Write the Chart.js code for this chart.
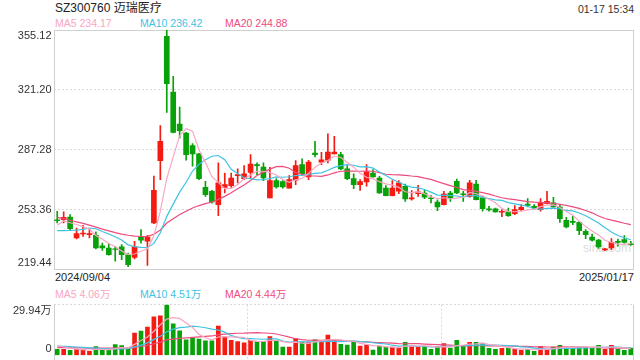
<!DOCTYPE html>
<html>
<head>
<meta charset="utf-8">
<script src="https://cdn.jsdelivr.net/npm/chart.js@4.4.1/dist/chart.umd.min.js"></script>
<style>
  html, body { margin: 0; padding: 0; background: #fff; }
  #wrap { position: relative; width: 640px; height: 360px; overflow: hidden;
          font-family: "Liberation Sans", Arial, "Noto Sans CJK SC", sans-serif; }
  .txt { position: absolute; white-space: nowrap; line-height: 1; }
  canvas { position: absolute; left: 0; }
</style>
</head>
<body>
<div id="wrap">
  <div class="txt" style="left:55px;top:1.5px;font-size:12px;color:#222">SZ300760 迈瑞医疗</div>
  <div class="txt" style="right:6px;top:3.8px;font-size:10.5px;color:#333">01-17 15:34</div>
  <div class="txt" style="left:583px;top:242px;font-size:12px;color:#dcdcdc">sina.com</div>
  <div id="legend-k"></div>
  <div id="legend-v"></div>
  <div class="txt" id="date-first" style="left:55px;top:272.4px;font-size:11px;color:#222"></div>
  <div class="txt" id="date-last" style="right:6px;top:272.4px;font-size:11px;color:#222"></div>
  <canvas id="kline" width="640" height="280" style="top:0"></canvas>
  <canvas id="vol" width="640" height="60" style="top:300px"></canvas>
</div>
<script>
// trading days shown
const dates = [
  '2024/09/04','2024/09/05','2024/09/06','2024/09/09','2024/09/10','2024/09/11','2024/09/12','2024/09/13','2024/09/18','2024/09/19',
  '2024/09/20','2024/09/23','2024/09/24','2024/09/25','2024/09/26','2024/09/27','2024/09/30','2024/10/08','2024/10/09','2024/10/10',
  '2024/10/11','2024/10/14','2024/10/15','2024/10/16','2024/10/17','2024/10/18','2024/10/21','2024/10/22','2024/10/23','2024/10/24',
  '2024/10/25','2024/10/28','2024/10/29','2024/10/30','2024/10/31','2024/11/01','2024/11/04','2024/11/05','2024/11/06','2024/11/07',
  '2024/11/08','2024/11/11','2024/11/12','2024/11/13','2024/11/14','2024/11/15','2024/11/18','2024/11/19','2024/11/20','2024/11/21',
  '2024/11/22','2024/11/25','2024/11/26','2024/11/27','2024/11/28','2024/11/29','2024/12/02','2024/12/03','2024/12/04','2024/12/05',
  '2024/12/06','2024/12/09','2024/12/10','2024/12/11','2024/12/12','2024/12/13','2024/12/16','2024/12/17','2024/12/18','2024/12/19',
  '2024/12/20','2024/12/23','2024/12/24','2024/12/25','2024/12/26','2024/12/27','2024/12/30','2024/12/31','2025/01/02','2025/01/03',
  '2025/01/06','2025/01/07','2025/01/08','2025/01/09','2025/01/10','2025/01/13','2025/01/14','2025/01/15','2025/01/16','2025/01/17'
];

const opens = [
  247.6, 247.7, 249.2, 237.4, 239.6, 239.3, 238.9, 233.0, 231.7, 231.3,
  232.3, 227.9, 226.4, 237.9, 235.5, 245.9, 281.1, 351.4, 319.9, 301.8,
  296.7, 289.6, 284.9, 266.0, 263.8, 256.2, 266.0, 267.0, 272.6, 270.9,
  274.5, 278.8, 277.5, 260.0, 269.8, 269.2, 265.6, 270.0, 278.8, 271.9,
  285.4, 280.3, 281.3, 284.9, 284.5, 276.4, 270.9, 267.5, 269.0, 274.1,
  271.3, 265.6, 261.3, 263.8, 266.6, 259.4, 262.4, 262.8, 260.0, 257.7,
  256.2, 262.8, 269.4, 262.4, 260.9, 267.9, 260.0, 253.8, 253.8, 251.9,
  252.1, 251.1, 253.4, 256.6, 255.3, 253.4, 256.8, 257.2, 254.9, 247.4,
  246.8, 246.2, 241.1, 237.9, 236.2, 230.6, 231.7, 235.5, 236.4, 234.0
];
const closes = [
  247.2, 249.0, 242.7, 239.8, 240.2, 239.8, 231.7, 231.7, 227.9, 230.9,
  227.9, 222.3, 232.3, 236.1, 237.9, 264.3, 292.0, 324.6, 297.1, 298.0,
  284.5, 284.9, 270.9, 261.9, 257.7, 268.5, 267.5, 271.3, 273.2, 273.6,
  279.2, 278.3, 271.3, 269.8, 266.2, 266.2, 270.4, 278.3, 273.7, 280.3,
  284.5, 281.5, 286.0, 286.0, 276.4, 270.9, 267.5, 269.2, 274.7, 271.9,
  262.8, 261.3, 265.6, 268.5, 259.4, 260.0, 263.4, 260.5, 259.6, 254.9,
  262.2, 260.0, 262.8, 261.9, 268.5, 259.0, 253.9, 253.2, 252.1, 252.5,
  250.0, 253.4, 254.7, 255.8, 254.3, 257.2, 258.1, 254.9, 248.3, 243.6,
  246.2, 241.5, 239.3, 236.1, 232.3, 231.2, 234.9, 234.9, 234.9, 233.6
];
const highs = [
  252.5, 252.1, 250.6, 243.0, 244.5, 242.5, 240.8, 234.5, 234.0, 232.7,
  233.6, 228.9, 235.5, 242.1, 238.9, 272.4, 300.9, 355.12, 328.8, 311.4,
  297.1, 290.7, 285.2, 269.4, 264.3, 279.8, 274.1, 274.1, 276.4, 278.3,
  284.5, 279.8, 279.8, 277.3, 270.9, 269.8, 272.6, 281.1, 282.1, 281.3,
  292.0, 285.8, 296.2, 294.8, 285.8, 278.3, 273.6, 270.4, 278.8, 276.0,
  272.2, 267.0, 269.8, 269.8, 267.9, 264.1, 267.1, 264.3, 261.3, 259.0,
  263.8, 263.8, 270.7, 263.8, 270.0, 270.0, 260.9, 255.3, 254.3, 253.4,
  254.3, 255.7, 256.2, 259.6, 256.2, 259.6, 263.8, 260.4, 256.2, 249.1,
  249.6, 246.8, 242.1, 239.6, 236.6, 231.5, 237.0, 236.8, 238.7, 235.5
];
const lows = [
  245.9, 245.9, 241.5, 236.8, 238.3, 237.4, 231.2, 230.4, 227.6, 224.2,
  225.1, 221.2, 225.5, 234.5, 221.9, 245.5, 270.4, 308.4, 296.7, 293.9,
  281.3, 277.9, 270.4, 260.9, 257.0, 250.0, 262.8, 266.0, 268.5, 270.4,
  271.3, 273.2, 269.8, 260.0, 265.6, 265.6, 265.5, 267.5, 272.6, 270.4,
  283.2, 278.8, 279.8, 284.9, 276.0, 270.4, 265.3, 264.3, 266.6, 271.7,
  262.6, 261.1, 261.1, 262.4, 258.1, 258.7, 260.9, 259.6, 257.2, 252.8,
  256.0, 258.1, 262.4, 258.1, 260.4, 258.9, 252.5, 252.5, 251.9, 249.4,
  249.6, 250.6, 252.8, 254.9, 253.8, 252.5, 256.6, 254.7, 246.2, 243.0,
  244.9, 239.3, 237.0, 235.5, 231.4, 230.2, 230.8, 232.7, 234.5, 233.2
];

// moving averages
const ma5 = [
  244.6, 247.0, 246.0, 245.0, 243.8, 242.3, 238.8, 236.6, 234.3, 232.4,
  230.0, 228.1, 228.3, 229.9, 231.3, 238.6, 252.5, 271.0, 283.2, 295.2,
  299.2, 297.8, 287.1, 280.0, 272.0, 268.8, 265.3, 265.4, 267.6, 270.8,
  273.0, 275.1, 275.1, 274.4, 273.0, 270.4, 268.8, 270.2, 271.0, 273.8,
  277.4, 279.7, 281.2, 283.7, 282.9, 280.2, 277.4, 274.0, 271.7, 270.8,
  269.2, 268.0, 267.3, 266.0, 263.5, 263.0, 263.4, 262.4, 260.6, 259.7,
  260.1, 259.4, 259.9, 260.4, 263.1, 262.4, 261.2, 259.3, 257.3, 254.1,
  252.3, 252.2, 252.5, 253.3, 253.6, 255.1, 256.0, 256.1, 254.6, 252.4,
  250.2, 246.9, 243.8, 241.3, 239.1, 236.1, 234.8, 233.9, 233.8, 234.2
];
const ma10 = [
  241.5, 241.5, 241.6, 241.8, 242.2, 243.0, 242.6, 241.0, 239.6, 238.1,
  236.2, 233.5, 232.5, 232.1, 231.9, 234.3, 240.3, 249.6, 256.5, 263.3,
  268.9, 275.2, 279.0, 281.6, 283.6, 284.0, 281.6, 276.2, 273.8, 271.4,
  270.9, 270.2, 270.3, 271.0, 271.9, 271.7, 272.0, 272.7, 272.7, 273.4,
  273.9, 274.2, 275.7, 277.3, 278.3, 278.8, 278.5, 277.6, 277.7, 276.9,
  274.7, 272.7, 270.6, 268.9, 267.2, 266.1, 265.7, 264.8, 263.3, 261.6,
  261.5, 261.4, 261.1, 260.5, 261.4, 261.3, 260.3, 259.6, 258.9, 258.6,
  257.4, 256.7, 255.9, 255.3, 253.9, 253.7, 254.1, 254.3, 253.9, 253.0,
  252.7, 251.5, 249.9, 248.0, 245.8, 243.2, 240.8, 238.8, 237.5, 236.4
];
const ma20 = [
  249.0, 248.3, 247.4, 246.5, 245.6, 244.6, 243.5, 242.4, 241.4, 240.4,
  239.6, 238.9, 238.4, 238.2, 238.3, 239.5, 241.9, 245.8, 248.3, 250.7,
  252.5, 254.3, 255.7, 256.8, 257.7, 259.2, 260.9, 262.9, 265.2, 267.3,
  269.9, 272.7, 274.6, 276.3, 277.7, 277.8, 276.8, 274.4, 273.3, 272.4,
  272.4, 272.2, 273.0, 274.2, 275.1, 275.2, 275.2, 275.1, 275.2, 275.1,
  274.3, 273.4, 273.2, 273.1, 272.8, 272.4, 272.1, 271.2, 270.5, 269.2,
  268.1, 267.0, 265.9, 264.7, 264.3, 263.7, 263.0, 262.2, 261.1, 260.1,
  259.5, 259.1, 258.5, 257.9, 257.6, 257.5, 257.2, 257.0, 256.4, 255.8,
  255.0, 254.1, 252.9, 251.6, 249.8, 248.4, 247.5, 246.6, 245.7, 244.9
];

// volume in 万
const volumes = [
  3.6, 3.6, 3.0, 3.6, 3.6, 2.4, 5.2, 3.0, 3.0, 6.4,
  5.8, 4.4, 13.2, 14.4, 16.8, 22.8, 23.4, 29.94, 18.6, 14.5,
  9.2, 10.2, 9.7, 8.6, 8.6, 17.4, 11.0, 9.0, 8.2, 7.5,
  8.9, 8.3, 8.3, 11.2, 8.3, 4.9, 5.0, 10.0, 7.9, 7.9,
  9.3, 8.6, 12.1, 9.2, 6.6, 6.2, 8.2, 5.5, 6.2, 3.2,
  5.5, 5.0, 5.0, 4.4, 7.8, 5.4, 5.4, 5.4, 3.6, 5.0,
  7.0, 4.4, 9.0, 5.4, 7.8, 7.8, 7.0, 4.2, 3.6, 4.2,
  4.4, 3.6, 3.0, 3.6, 2.4, 5.4, 3.6, 5.0, 6.0, 4.4,
  5.0, 5.0, 5.0, 4.4, 6.0, 3.6, 6.0, 3.6, 3.0, 4.4
];
const volMa5 = [
  5.8, 5.0, 4.3, 3.8, 3.48, 3.24, 3.56, 3.56, 3.44, 4.0,
  4.68, 4.52, 6.56, 8.84, 10.92, 14.32, 18.12, 21.47, 22.31, 21.85,
  19.13, 16.49, 12.44, 10.44, 9.26, 10.9, 11.06, 10.92, 10.84, 10.62,
  8.92, 8.38, 8.24, 8.84, 9.0, 8.2, 7.54, 7.88, 7.22, 7.14,
  8.02, 8.74, 9.16, 9.42, 9.16, 8.54, 8.46, 7.14, 6.54, 5.86,
  5.72, 5.08, 4.98, 4.62, 5.54, 5.52, 5.6, 5.68, 5.52, 4.96,
  5.28, 5.08, 5.8, 6.16, 6.72, 6.88, 7.4, 6.44, 6.08, 5.36,
  4.68, 4.0, 3.76, 3.76, 3.4, 3.6, 3.6, 4.0, 4.48, 4.88,
  4.8, 5.08, 5.08, 4.76, 5.08, 4.8, 5.0, 4.72, 4.44, 4.06
];
const volMa10 = [
  5.6, 5.4, 5.2, 5.0, 4.8, 4.5, 4.3, 4.1, 3.9, 3.74,
  3.96, 4.04, 5.06, 6.14, 7.46, 9.5, 11.32, 14.01, 15.57, 16.38,
  16.72, 17.3, 16.95, 16.37, 15.55, 15.01, 13.77, 11.68, 10.64, 9.94,
  9.91, 9.72, 9.58, 9.84, 9.81, 8.56, 7.96, 8.06, 8.03, 8.07,
  8.11, 8.14, 8.52, 8.32, 8.15, 8.28, 8.6, 8.15, 7.98, 7.51,
  7.13, 6.77, 6.06, 5.58, 5.7, 5.62, 5.34, 5.33, 5.07, 5.25,
  5.4, 5.34, 5.74, 5.84, 5.84, 6.08, 6.24, 6.12, 6.12, 6.04,
  5.78, 5.7, 5.1, 4.92, 4.38, 4.14, 3.8, 3.88, 4.12, 4.14,
  4.2, 4.34, 4.54, 4.62, 4.98, 4.8, 5.04, 4.9, 4.6, 4.51
];
const volMa20 = [
  4.6, 4.6, 4.5, 4.5, 4.5, 4.4, 4.4, 4.4, 4.3, 4.3,
  4.3, 4.3, 4.8, 5.3, 6.0, 6.9, 7.9, 9.2, 9.7, 10.06,
  10.34, 10.67, 11.01, 11.26, 11.51, 12.26, 12.55, 12.85, 13.11, 13.16,
  13.32, 13.51, 13.27, 13.11, 12.68, 11.79, 10.87, 9.87, 9.34, 9.0,
  9.01, 8.93, 9.05, 9.08, 8.98, 8.42, 8.28, 8.1, 8.0, 7.79,
  7.62, 7.46, 7.29, 6.95, 6.92, 6.95, 6.97, 6.74, 6.52, 6.38,
  6.26, 6.06, 5.9, 5.71, 5.77, 5.85, 5.79, 5.72, 5.6, 5.65,
  5.59, 5.52, 5.42, 5.38, 5.11, 5.11, 5.02, 5.0, 5.12, 5.09,
  4.99, 5.02, 4.82, 4.77, 4.68, 4.47, 4.42, 4.39, 4.36, 4.44
];

const priceTicks = [219.44, 253.36, 287.28, 321.20, 355.12];
const volTicks = [0, 29.94];
const priceLegend = [['MA5', '234.17'], ['MA10', '236.42'], ['MA20', '244.88']];
const volLegend = [['MA5', '4.06万'], ['MA10', '4.51万'], ['MA20', '4.44万']];

const UP = '#f31b12';
const DOWN = '#09a109';
const MA_COLORS = ['#f9a6c2', '#3fc3e3', '#ee4c7d'];
const GRID = '#d9d9d9';
const FRAME = '#cfcfcf';

Chart.defaults.font.family = '"Liberation Sans", Arial, sans-serif';

// legends + date labels
function buildLegend(id, items, top) {
    const box = document.getElementById(id);
    const lefts = [55, 140, 225];
    items.forEach((it, i) => {
        const d = document.createElement('div');
        d.className = 'txt';
        d.style.cssText = `left:${lefts[i]}px;top:${top}px;font-size:10.5px;color:${MA_COLORS[i]}`;
        d.textContent = it[0] + ' ' + it[1];
        box.appendChild(d);
    });
}
buildLegend('legend-k', priceLegend, 18.4);
buildLegend('legend-v', volLegend, 289);
document.getElementById('date-first').textContent = dates[0];
document.getElementById('date-last').textContent = dates[dates.length - 1];

const candleColors = opens.map((o, i) => closes[i] >= o ? UP : DOWN);
const bodies = opens.map((o, i) => [o, closes[i]]);
const wicks = lows.map((l, i) => [l, highs[i]]);
const volColors = candleColors;

function maLine(label, data, color) {
    return {
        type: 'line', label, data,
        borderColor: color, borderWidth: 1.2,
        pointRadius: 0, tension: 0, fill: false, order: 0
    };
}

// y tick labels, top and bottom pulled inside the frame
function axisLabels(ticks, fmt, topShift, bottomShift) {
    return {
        id: 'axisLabels',
        afterDraw(chart) {
            const { ctx, scales: { y } } = chart;
            ctx.save();
            ctx.font = '11px "Liberation Sans", Arial, "Noto Sans CJK SC", sans-serif';
            ctx.fillStyle = '#333';
            ctx.textAlign = 'right';
            ctx.textBaseline = 'middle';
            ticks.forEach((v, i) => {
                let py = y.getPixelForValue(v);
                if (i === ticks.length - 1) py += topShift;
                if (i === 0) py -= bottomShift;
                ctx.fillText(fmt(v), 51.5, py);
            });
            ctx.restore();
        }
    };
}

const kFrame = {
    id: 'kFrame',
    beforeDatasetsDraw(chart) {
        const { ctx, chartArea: a } = chart;
        ctx.save();
        ctx.strokeStyle = FRAME;
        ctx.lineWidth = 1;
        ctx.strokeRect(Math.round(a.left) + 0.5, Math.round(a.top) + 0.5,
            Math.round(a.right - a.left) - 1, Math.round(a.bottom - a.top) - 1);
        ctx.restore();
    }
};

const vFrame = {
    id: 'vFrame',
    beforeDatasetsDraw(chart) {
        const { ctx, chartArea: a } = chart;
        const l = Math.round(a.left) + 0.5, r = Math.round(a.right) - 0.5;
        ctx.save();
        ctx.strokeStyle = FRAME;
        ctx.lineWidth = 1;
        ctx.beginPath();
        ctx.moveTo(l, a.top); ctx.lineTo(l, a.bottom + 5);
        ctx.moveTo(r, a.top); ctx.lineTo(r, a.bottom + 5);
        ctx.stroke();
        // dotted dividers at thirds
        ctx.strokeStyle = GRID;
        ctx.setLineDash([2, 2]);
        ctx.beginPath();
        for (let k = 1; k <= 2; k++) {
            const x = Math.round(a.left + (a.right - a.left) * k / 3) + 0.5;
            ctx.moveTo(x, a.top); ctx.lineTo(x, a.bottom + 5);
        }
        ctx.stroke();
        ctx.restore();
    }
};

const kChart = new Chart(document.getElementById('kline'), {
    data: {
        labels: dates,
        datasets: [
            maLine('MA5', ma5, MA_COLORS[0]),
            maLine('MA10', ma10, MA_COLORS[1]),
            maLine('MA20', ma20, MA_COLORS[2]),
            { type: 'bar', label: 'body', data: bodies, backgroundColor: candleColors,
              barThickness: 5, grouped: false, order: 1 },
            { type: 'bar', label: 'wick', data: wicks, backgroundColor: candleColors,
              barThickness: 1, grouped: false, order: 2 }
        ]
    },
    options: {
        responsive: false,
        animation: false,
        events: [],
        layout: { padding: { left: 54, right: 6, top: 29.7, bottom: 10.3 } },
        plugins: { legend: { display: false }, tooltip: { enabled: false } },
        scales: {
            x: { display: false, offset: true },
            y: {
                min: priceTicks[0],
                max: priceTicks[priceTicks.length - 1],
                afterBuildTicks: s => { s.ticks = priceTicks.map(v => ({ value: v })); },
                ticks: { display: false },
                grid: {
                    drawTicks: false,
                    color: c => (c.index === 0 || c.index === priceTicks.length - 1) ? 'rgba(0,0,0,0)' : GRID
                },
                border: { display: false, dash: [2, 2] }
            }
        }
    },
    plugins: [kFrame, axisLabels(priceTicks, v => v.toFixed(2), 5.8, 7)]
});

const vChart = new Chart(document.getElementById('vol'), {
    data: {
        labels: dates,
        datasets: [
            maLine('MA5', volMa5, MA_COLORS[0]),
            maLine('MA10', volMa10, MA_COLORS[1]),
            maLine('MA20', volMa20, MA_COLORS[2]),
            { type: 'bar', label: 'vol', data: volumes, backgroundColor: volColors,
              barThickness: 4, order: 1 }
        ]
    },
    options: {
        responsive: false,
        animation: false,
        events: [],
        layout: { padding: { left: 54, right: 6, top: 4.7, bottom: 4.5 } },
        plugins: { legend: { display: false }, tooltip: { enabled: false } },
        scales: {
            x: { display: false, offset: true },
            y: {
                min: volTicks[0],
                max: volTicks[1],
                afterBuildTicks: s => { s.ticks = volTicks.map(v => ({ value: v })); },
                ticks: { display: false },
                grid: {
                    drawTicks: false,
                    color: c => c.index === 0 ? 'rgba(0,0,0,0)' : GRID
                },
                border: { display: false, dash: [2, 2] }
            }
        }
    },
    plugins: [vFrame, axisLabels(volTicks, v => v === 0 ? '0' : v.toFixed(2) + '万', 6.3, 7)]
});
</script>
</body>
</html>
